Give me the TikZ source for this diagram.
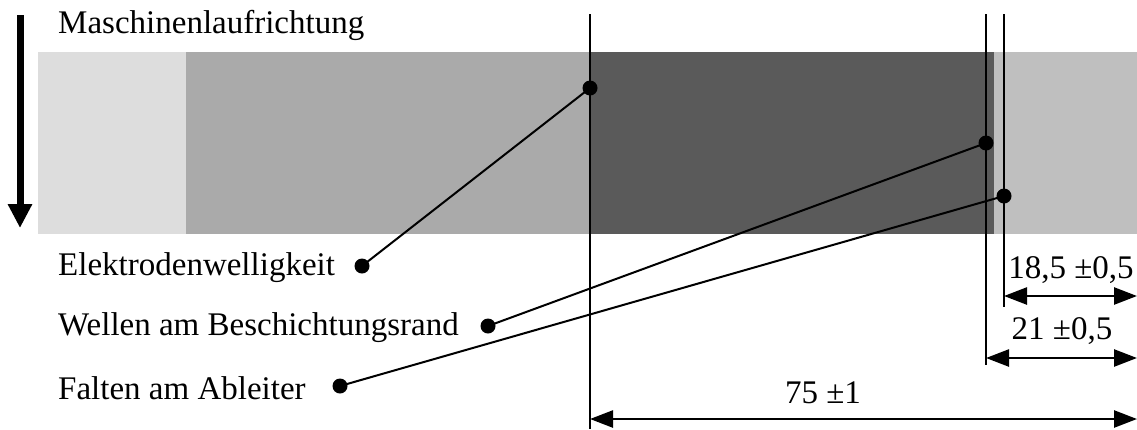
\documentclass[tikz,border=0pt]{standalone}
\usepackage{fontspec}
\setmainfont{Liberation Serif}
\usetikzlibrary{arrows.meta}
\definecolor{lightg}{HTML}{DDDDDD}
\definecolor{midg}{HTML}{AAAAAA}
\definecolor{darkg}{HTML}{5A5A5A}
\definecolor{rightg}{HTML}{BFBFBF}
\tikzset{
  dot/.style={circle,fill=black,inner sep=0pt,minimum size=15pt},
  lbl/.style={font=\fontsize{33}{37}\selectfont,inner sep=0pt},
  conn/.style={line width=2pt},
  ref/.style={line width=1.3pt},
  dim/.style={line width=2.5pt,{Triangle[length=23pt,width=17pt]}-{Triangle[length=23pt,width=17pt]}}
}
\begin{document}
\begin{tikzpicture}[x=1pt,y=-1pt]
\useasboundingbox (0,0) rectangle (1137,429);
% strip
\fill[lightg] (38,52) rectangle (186,234);
\fill[midg] (186,52) rectangle (590,234);
\fill[darkg] (590,52) rectangle (994,234);
\fill[rightg] (994,52) rectangle (1137,234);
% reference lines
\coordinate (t1) at (590,14); \coordinate (b1) at (590,429);
\coordinate (t2) at (986,14); \coordinate (b2) at (986,365);
\coordinate (t3) at (1004,14); \coordinate (b3) at (1004,307);
\draw[ref] (t1) -- (b1);
\draw[ref] (t2) -- (b2);
\draw[ref] (t3) -- (b3);
% direction arrow
\coordinate (as) at (20,15); \coordinate (ae) at (20,228);
\draw[line width=7pt,-{Triangle[length=24pt,width=23pt]}] (as) -- (ae);
\node[lbl,anchor=west] (title) at (58,25) {Maschinenlaufrichtung};
% labels
\node[lbl,anchor=west] (l1) at (58,268) {Elektrodenwelligkeit};
\node[lbl,anchor=west] (l2) at (58,328) {Wellen am Beschichtungsrand};
\node[lbl,anchor=west] (l3) at (58,388) {Falten am Ableiter};
\node[dot] (d1) at (590,88) {};
\node[dot] (d2) at (986,143) {};
\node[dot] (d3) at (1004,196) {};
\node[dot] (e1) at (362,266) {};
\node[dot] (e2) at (488,326) {};
\node[dot] (e3) at (340,386) {};
\draw[conn] (d1.center) -- (e1.center);
\draw[conn] (d2.center) -- (e2.center);
\draw[conn] (d3.center) -- (e3.center);
% dimensions
\coordinate (r1) at (1137,296); \coordinate (s1) at (1004,296);
\coordinate (r2) at (1137,358); \coordinate (s2) at (986,358);
\coordinate (r3) at (1137,419); \coordinate (s3) at (590,419);
\draw[dim] (s1) -- (r1);
\draw[dim] (s2) -- (r2);
\draw[dim] (s3) -- (r3);
\node[lbl] (m1) at (1071,270) {18,5 ±0,5};
\node[lbl] (m2) at (1062,331) {21 ±0,5};
\node[lbl] (m3) at (823,393) {75 ±1};
\end{tikzpicture}
\end{document}
